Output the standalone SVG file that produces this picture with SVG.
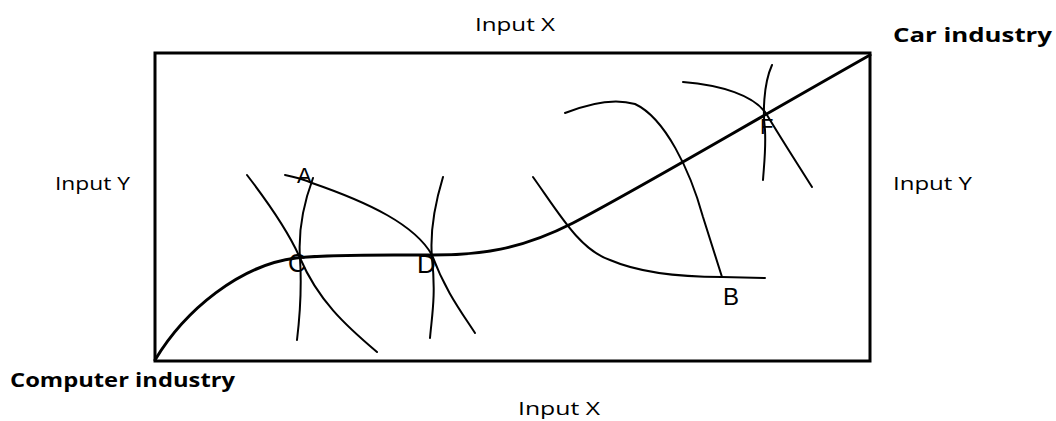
<svg xmlns="http://www.w3.org/2000/svg" width="1056" height="421" viewBox="0 0 1056 421">
<style>
.lbl{font-family:"Open Sans","Noto Sans",sans-serif;font-size:18px;fill:#000}
.bold{font-family:"Open Sans","Noto Sans",sans-serif;font-size:19px;font-weight:bold;fill:#000}
.pt{font-family:"Liberation Sans",Arial,sans-serif;fill:#000}
.ic{fill:none;stroke:#000;stroke-width:2;stroke-linecap:round}
.cc{fill:none;stroke:#000;stroke-width:3;stroke-linecap:round}
</style>
<rect x="155" y="53" width="715" height="308" fill="none" stroke="#000" stroke-width="3"/>
<g id="labels">
<text class="lbl" x="475" y="31" textLength="80" lengthAdjust="spacingAndGlyphs">Input X</text>
<text class="bold" x="893" y="42" textLength="159" lengthAdjust="spacingAndGlyphs">Car industry</text>
<text class="lbl" x="55" y="190" textLength="75" lengthAdjust="spacingAndGlyphs">Input Y</text>
<text class="lbl" x="893" y="190" textLength="79" lengthAdjust="spacingAndGlyphs">Input Y</text>
<text class="bold" x="10" y="387" textLength="225" lengthAdjust="spacingAndGlyphs">Computer industry</text>
<text class="lbl" x="518" y="415" textLength="82" lengthAdjust="spacingAndGlyphs">Input X</text>
</g>
<g id="connectors">
<path class="cc" d="M155,360 C185,310 240,265 296,258 C330,254 380,255 432,255 C480,255 520,250 573,223 C640,188 720,140 870,55"/>
<path class="ic" d="M247,175 C270,205 290,235 300,258 C318,300 345,325 377,352"/>
<path class="ic" d="M313,178 C303,205 298,230 300,258 C302,290 300,315 297,340"/>
<path class="ic" d="M285,175 C300,178 305,180 312,183 C370,203 415,225 432,255 C445,290 460,310 475,333"/>
<path class="ic" d="M443,177 C433,210 430,235 432,258 C436,295 432,315 430,338"/>
<path class="ic" d="M533,177 C560,215 580,250 610,260 C640,273 680,277 722,277 L765,278"/>
<path class="ic" d="M565,113 C590,103 615,98 635,104 C665,118 690,170 703,217 L722,277"/>
<path class="ic" d="M683,82 C720,85 755,95 767,115 C782,140 795,160 812,187"/>
<path class="ic" d="M772,65 C763,85 763,115 765,130 C766,150 764,165 763,180"/>
</g>
<g id="point-A"><text class="pt" x="297" y="183" font-size="22">A</text></g>
<g id="point-C"><text class="pt" x="288" y="272" font-size="25">C</text></g>
<g id="point-D"><text class="pt" x="417" y="273" font-size="26">D</text></g>
<g id="point-B"><text class="pt" x="723" y="305" font-size="24">B</text></g>
<g id="point-F"><text class="pt" x="760" y="134" font-size="22">F</text></g>
</svg>
